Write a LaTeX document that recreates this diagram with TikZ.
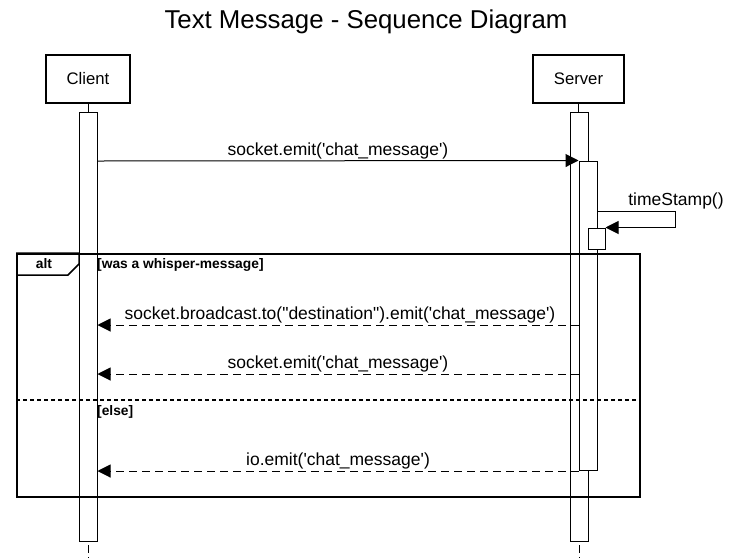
\documentclass[tikz,border=0pt]{standalone}
\usepackage{fontspec}
\setmainfont{Liberation Sans}[Ligatures=TeXOff]
\usetikzlibrary{arrows.meta}
\begin{document}
\begin{tikzpicture}[x=1pt,y=-1pt,
  part/.style={draw, line width=2.5pt, minimum height=48pt, inner sep=0pt, font=\fontsize{16.7}{18}\selectfont},
  actbar/.style={draw, fill=white, line width=1pt, minimum width=18pt, inner sep=0pt},
  msg/.style={line width=1pt, -{Triangle[length=13pt,width=13pt]}},
  reply/.style={msg, dash pattern=on 8pt off 5pt},
  lbl/.style={font=\fontsize{17.5}{19}\selectfont, anchor=base, inner sep=0pt},
  guard/.style={font=\bfseries\fontsize{13.8}{15}\selectfont, anchor=base west, inner sep=0pt},
  life/.style={line width=1pt},
]
\useasboundingbox (0,0) rectangle (731,558);

\node[font=\fontsize{25.8}{28}\selectfont, anchor=base, inner sep=0pt] (title) at (366,28) {Text Message - Sequence Diagram};

\node[part, minimum width=84pt] (client) at (88,79) {Client};
\node[part, minimum width=91pt] (server) at (578.5,79) {Server};

\coordinate (cend) at (88,545);
\coordinate (cbot) at (88,558);
\coordinate (send) at (579,545);
\coordinate (sbot) at (579,558);

\draw[life] (client.south) -- (88,112);
\draw[life] (server.south) -- (578.5,112);
\draw[life, dash pattern=on 8pt off 4pt] (cend) -- (cbot);
\draw[life, dash pattern=on 8pt off 4pt] (send) -- (sbot);

\node[actbar, minimum height=429pt] (cbar) at (88,326.5) {};
\node[actbar, minimum height=429pt] (sbar) at (579,326.5) {};
\node[actbar, minimum height=309pt] (sact) at (588,315.5) {};
\node[actbar, minimum width=17pt, minimum height=21pt] (sact2) at (596.5,238.5) {};

% message 1
\coordinate (m1) at (0,161);
\draw[msg] (cbar.east |- m1) -- (sact.north west);
\node[lbl] (l1) at (338,155) {socket.emit('chat\_message')};

% self call
\coordinate (t0) at (0,211);
\coordinate (t1) at (675,211);
\draw[msg] (sact.east |- t0) -- (t1) |- (sact2.north east);
\node[lbl] (lt) at (676,205) {timeStamp()};

% alt frame
\node[draw, line width=2pt, minimum width=623pt, minimum height=243pt, inner sep=0pt] (alt) at (328.5,375.5) {};
\draw[line width=1.5pt] (alt.north west) -- ++(63,0) -- ++(0,11) -- ++(-11,11) -- ++(-52,0);
\node[font=\bfseries\fontsize{13.8}{15}\selectfont, anchor=base, inner sep=0pt] (altlbl) at (44,268) {alt};
\node[guard] (g1) at (97,268) {[was a whisper-message]};

\coordinate (dv) at (0,400);
\draw[line width=2pt, dash pattern=on 4pt off 3pt] (alt.west |- dv) -- (alt.east |- dv);
\node[guard] (g2) at (97,415) {[else]};

% replies
\coordinate (m2) at (0,325);
\draw[reply] (sact.west |- m2) -- (cbar.east |- m2);
\node[lbl] (l2) at (340,319) {socket.broadcast.to("destination").emit('chat\_message')};

\coordinate (m3) at (0,374);
\draw[reply] (sact.west |- m3) -- (cbar.east |- m3);
\node[lbl] (l3) at (338,368) {socket.emit('chat\_message')};

\coordinate (m4) at (0,471);
\draw[reply] (sact.west |- m4) -- (cbar.east |- m4);
\node[lbl] (l4) at (338,465) {io.emit('chat\_message')};
\end{tikzpicture}
\end{document}
